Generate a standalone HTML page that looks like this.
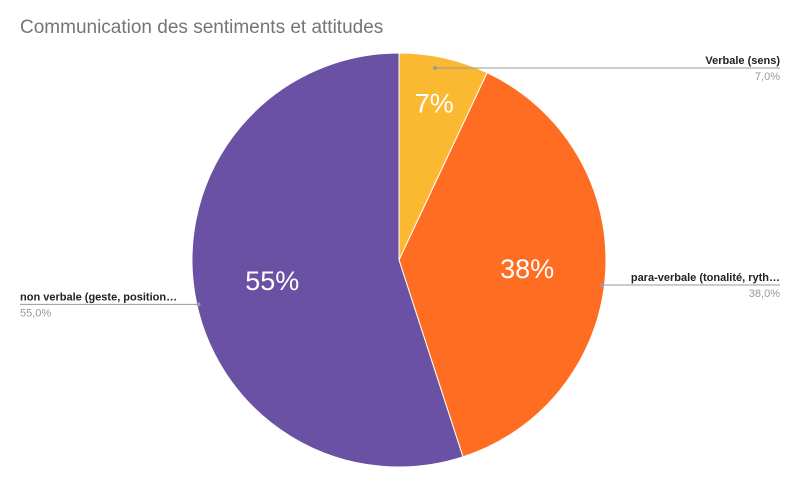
<!DOCTYPE html>
<html><head><meta charset="utf-8"><style>
body{margin:0;background:#fff;width:800px;height:482px;overflow:hidden;font-family:"Liberation Sans",Arial,sans-serif}
</style></head><body>
<svg width="800" height="482" id="chart">
<text x="20" y="33" font-size="19" fill="#757575">Communication des sentiments et attitudes</text>
<g id="slices"></g>
<g id="labels"></g>
</svg>
<script>
const categories=["Verbale (sens)","para-verbale (tonalité, ryth…","non verbale (geste, position…"];
const values=[7,38,55];
const colors=["#fbb932","#ff6d22","#6a51a3"];
const cx=399,cy=260,r=207;
const ns="http://www.w3.org/2000/svg";
const sl=document.getElementById('slices'),lb=document.getElementById('labels');
const total=values.reduce((a,b)=>a+b,0);
let a0=0;
function pt(a,rr){return [cx+rr*Math.sin(a),cy-rr*Math.cos(a)];}
function mk(tag,attrs,parent){const e=document.createElementNS(ns,tag);for(const k in attrs)e.setAttribute(k,attrs[k]);parent.appendChild(e);return e;}
values.forEach((v,i)=>{
  const a1=a0+v/total*2*Math.PI;
  const p0=pt(a0,r),p1=pt(a1,r);
  const large=(a1-a0)>Math.PI?1:0;
  const p=mk('path',{d:`M${cx},${cy}L${p0[0]},${p0[1]}A${r},${r} 0 ${large} 1 ${p1[0]},${p1[1]}Z`,fill:colors[i],stroke:'#fff','stroke-width':1},sl);
  
  
  const am=(a0+a1)/2;
  const lp=pt(am,r*(v<10?0.78:0.62));
  const t=mk('text',{x:lp[0],y:lp[1]+10,'text-anchor':'middle','font-size':27,fill:'#fff'},lb);
  t.textContent=Math.round(v/total*100)+'%';
  
  
  // external label
  const dp=pt(am,r*(v<10?0.8:1));
  const right=Math.sin(am)>=0;
  const ly=v<10?68:dp[1]+12;
  const dot=[right?Math.max(dp[0],cx+40):dp[0],v<10?68:ly];
  const x2=right?780:20;
  mk('line',{x1:dot[0]+(right?-2:2),y1:ly,x2:x2,y2:ly,stroke:'#999','stroke-width':1},lb);
  mk('circle',{cx:dot[0]+(right?-4:4),cy:ly,r:2,fill:'#999'},lb);
  const n=mk('text',{x:x2,y:ly-4,'text-anchor':right?'end':'start','font-size':11,'font-weight':'bold',fill:'#222'},lb);
  n.textContent=categories[i];
  
  
  const pv=mk('text',{x:x2,y:ly+12,'text-anchor':right?'end':'start','font-size':11,fill:'#999'},lb);
  pv.textContent=(v/total*100).toFixed(1).replace('.',',')+'%';
  
  
  a0=a1;
});
</script>
</body></html>
